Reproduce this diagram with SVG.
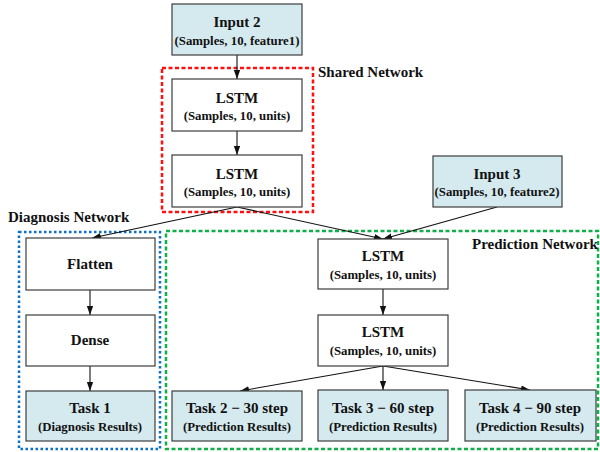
<svg xmlns="http://www.w3.org/2000/svg" width="600" height="452" viewBox="0 0 600 452">
<defs>
<style>
.n{fill:#fff;stroke:#3c3c3c;stroke-width:1.2}
.b{fill:#d5eaef;stroke:#3c3c3c;stroke-width:1.2}
.t{font-family:"Liberation Serif",serif;font-weight:bold;font-size:15px;text-anchor:middle;fill:#111}
.s{font-family:"Liberation Serif",serif;font-weight:bold;font-size:12.8px;text-anchor:middle;fill:#111}
.l{font-family:"Liberation Serif",serif;font-weight:bold;font-size:15px;fill:#111}
.c{stroke:#111;stroke-width:1.1;fill:none;marker-end:url(#a)}
</style>
<marker id="a" viewBox="0 0 10 10" refX="10" refY="5" markerWidth="9" markerHeight="9" markerUnits="userSpaceOnUse" orient="auto"><path d="M0,1.5 L10,5 L0,8.5 Z" fill="#111"/></marker>
</defs>
<rect width="600" height="452" fill="#fff"/>
<g id="groups">
<rect x="162" y="68" width="151" height="144" fill="none" stroke="#ff1010" stroke-width="2.5" stroke-dasharray="4,2.5"/>
<rect x="19" y="232" width="141" height="217" fill="none" stroke="#0a70c8" stroke-width="2.5" stroke-dasharray="2.5,2.5"/>
<rect x="166" y="231" width="432" height="218" fill="none" stroke="#10b048" stroke-width="2.5" stroke-dasharray="4,2.5"/>
<text class="l" x="318" y="77">Shared Network</text>
<text class="l" x="8" y="222">Diagnosis Network</text>
<text class="l" x="472" y="249">Prediction Network</text>
</g>
<g id="connectors">
<line class="c" x1="237" y1="55" x2="237" y2="79"/>
<line class="c" x1="237" y1="131" x2="237" y2="155"/>
<line class="c" x1="237" y1="207" x2="92" y2="238"/>
<line class="c" x1="237" y1="207" x2="383" y2="239"/>
<line class="c" x1="497" y1="207" x2="383" y2="239"/>
<line class="c" x1="383" y1="289" x2="383" y2="315"/>
<line class="c" x1="383" y1="366" x2="240" y2="391"/>
<line class="c" x1="383" y1="366" x2="383" y2="390"/>
<line class="c" x1="383" y1="366" x2="530" y2="390"/>
<line class="c" x1="90" y1="290" x2="90" y2="315"/>
<line class="c" x1="90" y1="366" x2="90" y2="391"/>
</g>
<g id="input2"><rect class="b" x="172" y="4" width="130" height="51"/><text class="t" x="237" y="27">Input 2</text><text class="s" x="237" y="45">(Samples, 10, feature1)</text></g>
<g id="lstm1"><rect class="n" x="172" y="79" width="130" height="52"/><text class="t" x="237" y="103">LSTM</text><text class="s" x="237" y="120">(Samples, 10, units)</text></g>
<g id="lstm2"><rect class="n" x="172" y="155" width="130" height="52"/><text class="t" x="237" y="179">LSTM</text><text class="s" x="237" y="196">(Samples, 10, units)</text></g>
<g id="input3"><rect class="b" x="433" y="156" width="129" height="51"/><text class="t" x="497" y="179">Input 3</text><text class="s" x="497" y="196">(Samples, 10, feature2)</text></g>
<g id="flatten"><rect class="n" x="26" y="238" width="129" height="52"/><text class="t" x="90" y="269">Flatten</text></g>
<g id="dense"><rect class="n" x="26" y="315" width="129" height="51"/><text class="t" x="90" y="345">Dense</text></g>
<g id="task1"><rect class="b" x="26" y="391" width="129" height="50"/><text class="t" x="90" y="413">Task 1</text><text class="s" x="90" y="431">(Diagnosis Results)</text></g>
<g id="lstm3"><rect class="n" x="318" y="239" width="130" height="50"/><text class="t" x="383" y="261">LSTM</text><text class="s" x="383" y="279">(Samples, 10, units)</text></g>
<g id="lstm4"><rect class="n" x="318" y="315" width="130" height="51"/><text class="t" x="383" y="337">LSTM</text><text class="s" x="383" y="355">(Samples, 10, units)</text></g>
<g id="task2"><rect class="b" x="172" y="391" width="130" height="50"/><text class="t" x="237" y="413">Task 2 − 30 step</text><text class="s" x="237" y="431">(Prediction Results)</text></g>
<g id="task3"><rect class="b" x="318" y="390" width="130" height="51"/><text class="t" x="383" y="413">Task 3 − 60 step</text><text class="s" x="383" y="431">(Prediction Results)</text></g>
<g id="task4"><rect class="b" x="465" y="390" width="131" height="51"/><text class="t" x="530" y="413">Task 4 − 90 step</text><text class="s" x="530" y="431">(Prediction Results)</text></g>
</svg>
